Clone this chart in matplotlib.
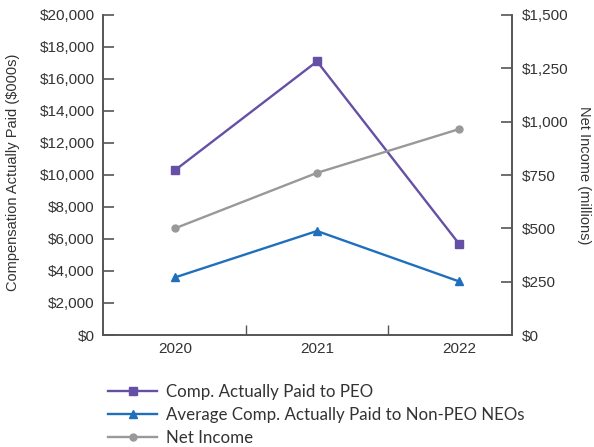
import matplotlib
matplotlib.use("Agg")
import matplotlib.pyplot as plt
from matplotlib import font_manager
from matplotlib.ticker import FuncFormatter, FixedLocator

years = ["2020", "2021", "2022"]
peo_cap = [10300, 17100, 5700]
neo_cap = [3600, 6500, 3350]
net_income = [500, 760, 965]

left_ticks = list(range(0, 20001, 2000))
right_ticks = list(range(0, 1501, 250))

names = {f.name for f in font_manager.fontManager.ttflist}
narrow = "Liberation Sans Narrow" if "Liberation Sans Narrow" in names else "Liberation Sans"
NS = 11.5 if narrow == "Liberation Sans Narrow" else 10.5
legend_font = "Lato" if "Lato" in names else "DejaVu Sans"

PURPLE = "#6650a6"
BLUE = "#1f6fbd"
GRAY = "#999999"
SPINE = "#555555"
TXT = "#333333"

fig = plt.figure(figsize=(5.94, 4.47), dpi=100)
ax = fig.add_axes([103/594, 1-335/447, (512-103)/594, (335-15)/447])
ax2 = ax.twinx()

x = list(range(len(years)))
l1, = ax.plot(x, peo_cap, color=PURPLE, lw=1.7, marker="s", ms=6, label="Comp. Actually Paid to PEO")
l2, = ax.plot(x, neo_cap, color=BLUE, lw=1.7, marker="^", ms=6, label="Average Comp. Actually Paid to Non-PEO NEOs")
l3, = ax2.plot(x, net_income, color=GRAY, lw=1.7, marker="o", ms=5, label="Net Income")

ax.set_xlim(-0.507, 2.373)
ax.set_ylim(0, 20000)
ax2.set_ylim(0, 1500)

ax.set_xticks(x)
ax.set_xticklabels(years, fontsize=NS + 0.5, family=narrow, color=TXT)
ax.xaxis.set_minor_locator(FixedLocator([0.5, 1.5]))
ax.tick_params(axis="x", which="major", length=0, pad=5)
ax.tick_params(axis="x", which="minor", direction="in", length=7, width=1, color=SPINE)

ax.set_yticks(left_ticks)
ax.yaxis.set_major_formatter(FuncFormatter(lambda v, p: f"${int(v):,}"))
ax.tick_params(axis="y", direction="in", length=8, width=1.2, color=SPINE, labelsize=NS + 0.5, labelcolor=TXT, pad=6)
for t in ax.get_yticklabels():
    t.set_family(narrow)

ax2.set_yticks(right_ticks)
ax2.yaxis.set_major_formatter(FuncFormatter(lambda v, p: f"${int(v):,}"))
ax2.tick_params(axis="y", direction="in", length=8, width=1.2, color=SPINE, labelsize=NS + 0.5, labelcolor=TXT, pad=7)
for t in ax2.get_yticklabels():
    t.set_family(narrow)

for a in (ax, ax2):
    a.spines["top"].set_visible(False)
    for s in ("left", "right", "bottom"):
        a.spines[s].set_color(SPINE)
        a.spines[s].set_linewidth(1.2)
    a.set_facecolor("none")

ax.set_ylabel("Compensation Actually Paid ($000s)", fontsize=NS, family=narrow, color=TXT)
ax.yaxis.set_label_coords((20 - 103) / 409, (335 - 172) / 320)
ax2.set_ylabel("Net Income (millions)", fontsize=NS, family=narrow, color=TXT, rotation=270, va="center")
ax2.yaxis.set_label_coords((584 - 103) / 409, (335 - 175) / 320)

fig.legend(handles=[l1, l2, l3], loc="upper left", bbox_to_anchor=(108/594, 1-384/447),
           frameon=False, prop={"family": legend_font, "size": 12.2}, labelcolor=TXT,
           handlelength=2.9, handletextpad=0.55, labelspacing=0.42, borderaxespad=0, borderpad=0)

fig.savefig("out.png", dpi=100)
